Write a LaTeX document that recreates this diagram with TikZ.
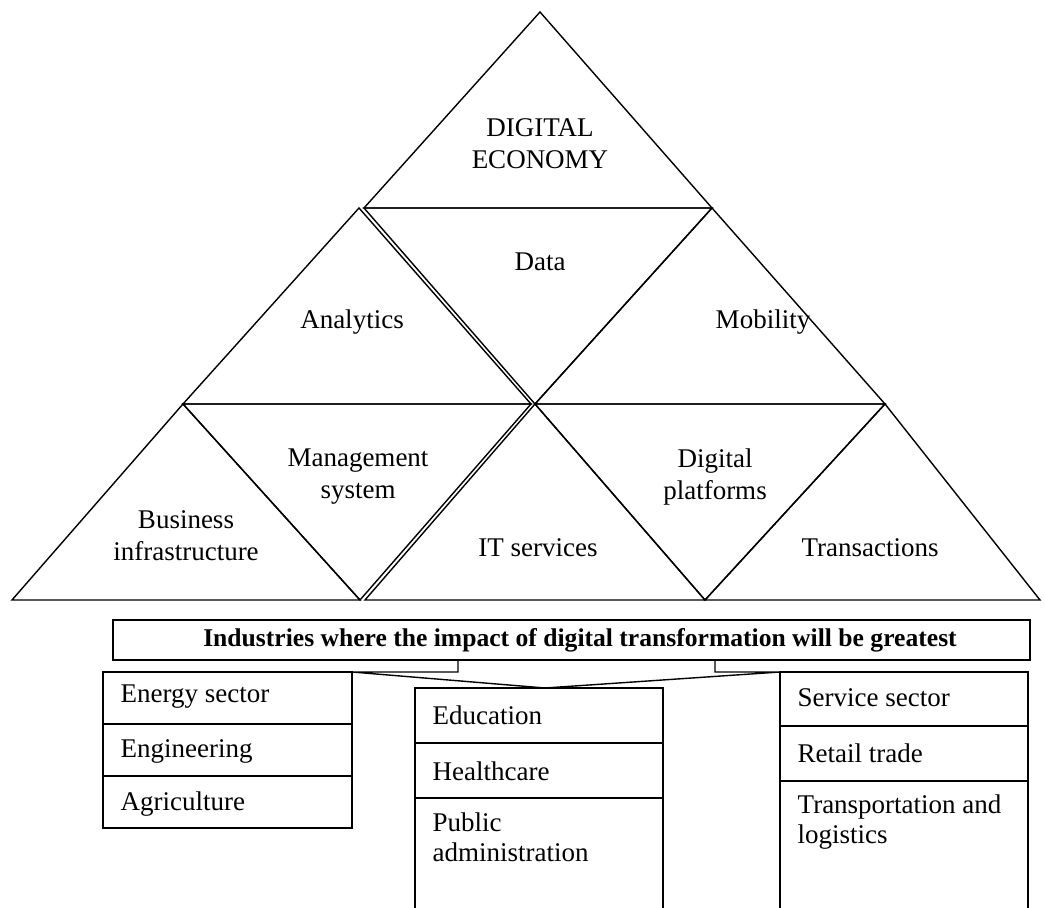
\documentclass[tikz,border=0pt]{standalone}
\usepackage{fontspec}
\setmainfont{Liberation Serif}

\tikzset{
  lbl/.style={align=center, font=\fontsize{13.5}{16}\selectfont},
  cell/.style={anchor=west, align=left, inner sep=0pt, font=\fontsize{13.5}{15}\selectfont},
}

\begin{document}
\begin{tikzpicture}[x=0.5pt, y=-0.5pt, line width=0.7pt]

\useasboundingbox (0,0) rectangle (1045,908);

% pyramid corners
\coordinate (T) at (540,12);
\coordinate (L1) at (364,208);
\coordinate (R1) at (712,208);
\coordinate (A1) at (359,208);
\coordinate (A2) at (531,404);
\coordinate (L2) at (183,404);
\coordinate (M2) at (535,404);
\coordinate (R2) at (885,404);
\coordinate (L3) at (12,600);
\coordinate (M3a) at (360,600);
\coordinate (M3b) at (365,600);
\coordinate (N3) at (705,600);
\coordinate (R3) at (1040,600);

\draw (T) -- (L1) -- (R1) -- cycle;
\draw (L1) -- (R1) -- (M2) -- cycle;
\draw (A1) -- (A2) -- (L2) -- cycle;
\draw (R1) -- (R2) -- (M2) -- cycle;
\draw (L2) -- (M3a) -- (L3) -- cycle;
\draw (L2) -- (A2) -- (M3a) -- cycle;
\draw (M2) -- (N3) -- (M3b) -- cycle;
\draw (M2) -- (R2) -- (N3) -- cycle;
\draw (R2) -- (R3) -- (N3) -- cycle;

\node[lbl] (econ) at (540,144) {DIGITAL\\ECONOMY};
\node[lbl] (data) at (540,262) {Data};
\node[lbl] (anal) at (352,322) {Analytics};
\node[lbl] (mobi) at (763,322) {Mobility};
\node[lbl] (mgmt) at (358,477) {Management\\system};
\node[lbl] (plat) at (715,477) {Digital\\platforms};
\node[lbl] (busi) at (186,536) {Business\\infrastructure};
\node[lbl] (itse) at (538,548) {IT services};
\node[lbl] (tran) at (870,548) {Transactions};

% title callout
\draw (113,620) rectangle (1030,660);
\node[font=\fontsize{12.8}{15}\selectfont\bfseries] (title) at (580,640)
  {Industries where the impact of digital transformation will be greatest};

\coordinate (Ltab) at (458,660);
\coordinate (Rtab) at (715,660);
\coordinate (LB) at (352,672);
\coordinate (RB) at (780,672);
\coordinate (tip) at (545,688);

\draw (Ltab) -- (458,672) -- (LB) -- (tip) -- (RB) -- (715,672) -- (Rtab);

% left column
\draw (103,672) rectangle (352,828);
\draw (103,724) -- (352,724);
\draw (103,776) -- (352,776);
\node[cell] (ener) at (120,697) {Energy sector};
\node[cell] (engi) at (120,751) {Engineering};
\node[cell] (agri) at (120,804) {Agriculture};

% middle column
\draw (415,908) -- (415,688) -- (663,688) -- (663,908);
\draw (415,743) -- (663,743);
\draw (415,798) -- (663,798);
\node[cell] (educ) at (432,715) {Education};
\node[cell] (heal) at (432,771) {Healthcare};
\node[cell, anchor=north west] (publ) at (432,812) {Public\\administration};

% right column
\draw (780,908) -- (780,672) -- (1028,672) -- (1028,908);
\draw (780,726) -- (1028,726);
\draw (780,781) -- (1028,781);
\node[cell] (serv) at (797,698) {Service sector};
\node[cell] (reta) at (797,753) {Retail trade};
\node[cell, anchor=north west] (trns) at (797,794) {Transportation and\\logistics};

\end{tikzpicture}
\end{document}
